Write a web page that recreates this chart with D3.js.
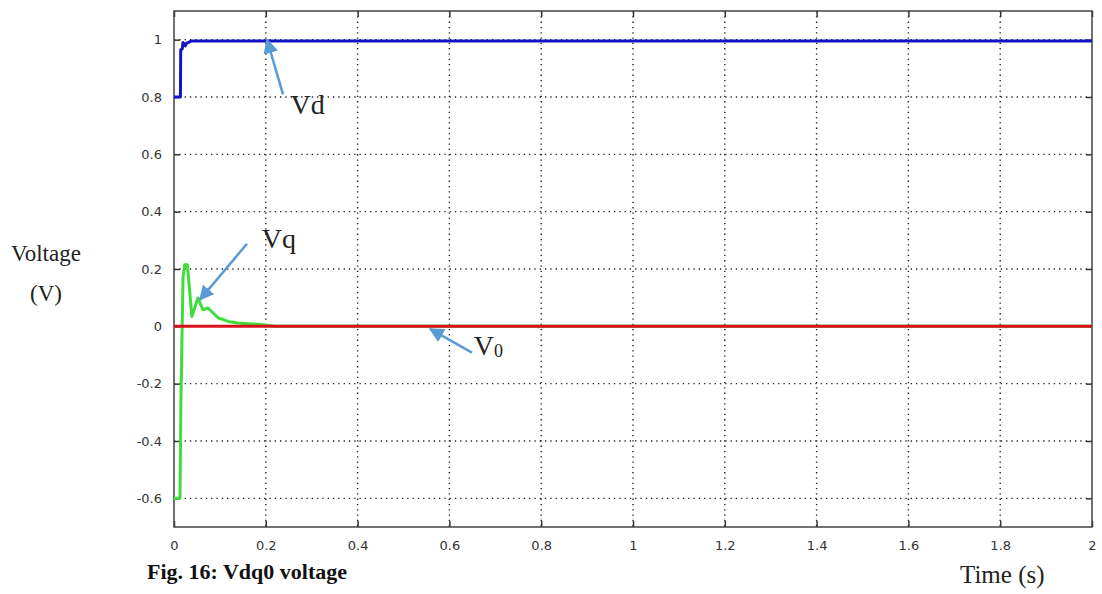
<!DOCTYPE html>
<html>
<head>
<meta charset="utf-8">
<script src="https://cdn.jsdelivr.net/npm/d3@7"></script>
<style>
body{margin:0;background:#fff;}
svg{display:block;}
</style>
</head>
<body>
<svg id="canvas" width="1102" height="594"></svg>
<script>
// time (s) and voltages
tVd=[0,0.014,0.0146,0.018,0.0196,0.0225,0.0246,0.0275,0.0305,0.037,2]
vd=[0.8,0.8,0.965,0.968,0.99,0.985,0.978,0.988,0.99,0.995,0.995]

tVq=[0,0.013,0.0152,0.0196,0.0233,0.029,0.039,0.052,0.063,0.074,0.096,0.118,0.139,0.183,0.22,2]
vq=[-0.6,-0.6,-0.25,0.17,0.215,0.215,0.034,0.099,0.058,0.064,0.03,0.017,0.012,0.007,0,0]

tV0=[0,2]
v0=[0,0]

xTicks=[0,0.2,0.4,0.6,0.8,1,1.2,1.4,1.6,1.8,2]
yTicks=[-0.6,-0.4,-0.2,0,0.2,0.4,0.6,0.8,1]

LEFT=174; TOP=11; W=918; H=516;

svg=d3.select("#canvas")
x=d3.scaleLinear().domain([0,2]).range([LEFT,LEFT+W])
y=d3.scaleLinear().domain([-0.7,1.1]).range([TOP+H,TOP])

// dotted grid
g=svg.append("g")
g.selectAll("line.gx").data(xTicks.slice(1,-1)).enter().append("line")
  .attr("x1",d=>x(d)).attr("x2",d=>x(d)).attr("y1",TOP).attr("y2",TOP+H)
  .attr("stroke","#222").attr("stroke-width",1.4).attr("stroke-dasharray","1.3,4")
g.selectAll("line.gy").data(yTicks).enter().append("line")
  .attr("y1",d=>y(d)).attr("y2",d=>y(d)).attr("x1",LEFT).attr("x2",LEFT+W)
  .attr("stroke","#222").attr("stroke-width",1.4).attr("stroke-dasharray","1.3,4")

// axes, ticks pointing inwards on all four sides
function styleAxis(sel){
  sel.select(".domain").remove()
  sel.selectAll(".tick line").attr("stroke","#333").attr("stroke-width",1.5)
  sel.selectAll(".tick text").attr("fill","#333")
    .style("font-family","'DejaVu Sans', sans-serif").style("font-size","13px")
}
fmt=d=>String(d)
svg.append("g").attr("transform","translate(0,"+(TOP+H)+")")
  .call(d3.axisBottom(x).tickValues(xTicks).tickFormat(fmt).tickSizeInner(-6).tickPadding(14))
  .call(styleAxis)
svg.append("g").attr("transform","translate(0,"+TOP+")")
  .call(d3.axisTop(x).tickValues(xTicks).tickFormat("").tickSizeInner(-6))
  .call(styleAxis)
svg.append("g").attr("transform","translate("+LEFT+",0)")
  .call(d3.axisLeft(y).tickValues(yTicks).tickFormat(fmt).tickSizeInner(-6).tickPadding(12))
  .call(styleAxis)
svg.append("g").attr("transform","translate("+(LEFT+W)+",0)")
  .call(d3.axisRight(y).tickValues(yTicks).tickFormat("").tickSizeInner(-6))
  .call(styleAxis)

svg.append("rect").attr("x",LEFT).attr("y",TOP).attr("width",W).attr("height",H)
  .attr("fill","none").attr("stroke","#444").attr("stroke-width",1.5)

// curves
line=d3.line().x(d=>x(d[0])).y(d=>y(d[1]))
function drawSeries(ts,vs,color){
  svg.append("path").datum(d3.zip(ts,vs)).attr("d",line)
    .attr("fill","none").attr("stroke",color).attr("stroke-width",3).attr("stroke-linejoin","round")
}
drawSeries(tVq,vq,"#3fdc3a")
drawSeries(tV0,v0,"#d8121a")
drawSeries(tVd,vd,"#1414c4")

// annotation arrows
defs=svg.append("defs")
defs.append("marker").attr("id","head").attr("viewBox","0 0 10 10")
  .attr("refX",9).attr("refY",5).attr("markerWidth",6).attr("markerHeight",6)
  .attr("orient","auto").attr("markerUnits","strokeWidth")
  .append("path").attr("d","M0,0 L10,5 L0,10 z").attr("fill","#5b9bd5")

arrows=[
  [0.2375,0.809,0.2026,1.0],
  [0.159,0.288,0.0566,0.093],
  [0.649,-0.092,0.558,-0.009]
]
svg.selectAll("line.arr").data(arrows).enter().append("line")
  .attr("x1",d=>x(d[0])).attr("y1",d=>y(d[1]))
  .attr("x2",d=>x(d[2])).attr("y2",d=>y(d[3]))
  .attr("stroke","#5b9bd5").attr("stroke-width",2.5).attr("marker-end","url(#head)")

serif="'Liberation Serif', 'Times New Roman', serif"
function label(t,v,txt,size){
  return svg.append("text").attr("x",x(t)).attr("y",y(v))
    .style("font-family",serif).style("font-size",size+"px").attr("fill","#222").text(txt)
}
label(0.254,0.74,"Vd",28)
label(0.191,0.272,"Vq",28)
v0lab=label(0.653,-0.1,"V",28)
v0lab.append("tspan").attr("dy",2).style("font-size","18px").text("0")

// outer labels
svg.append("text").attr("x",46).attr("y",261).attr("text-anchor","middle")
  .style("font-family",serif).style("font-size","23px").attr("fill","#222").text("Voltage")
svg.append("text").attr("x",46).attr("y",301).attr("text-anchor","middle")
  .style("font-family",serif).style("font-size","23px").attr("fill","#222").text("(V)")
svg.append("text").attr("x",147).attr("y",579)
  .style("font-family",serif).style("font-size","22px").style("font-weight","bold").attr("fill","#111")
  .text("Fig. 16: Vdq0 voltage")
svg.append("text").attr("x",960).attr("y",583)
  .style("font-family",serif).style("font-size","25px").attr("fill","#222").text("Time (s)")
</script>
</body>
</html>
